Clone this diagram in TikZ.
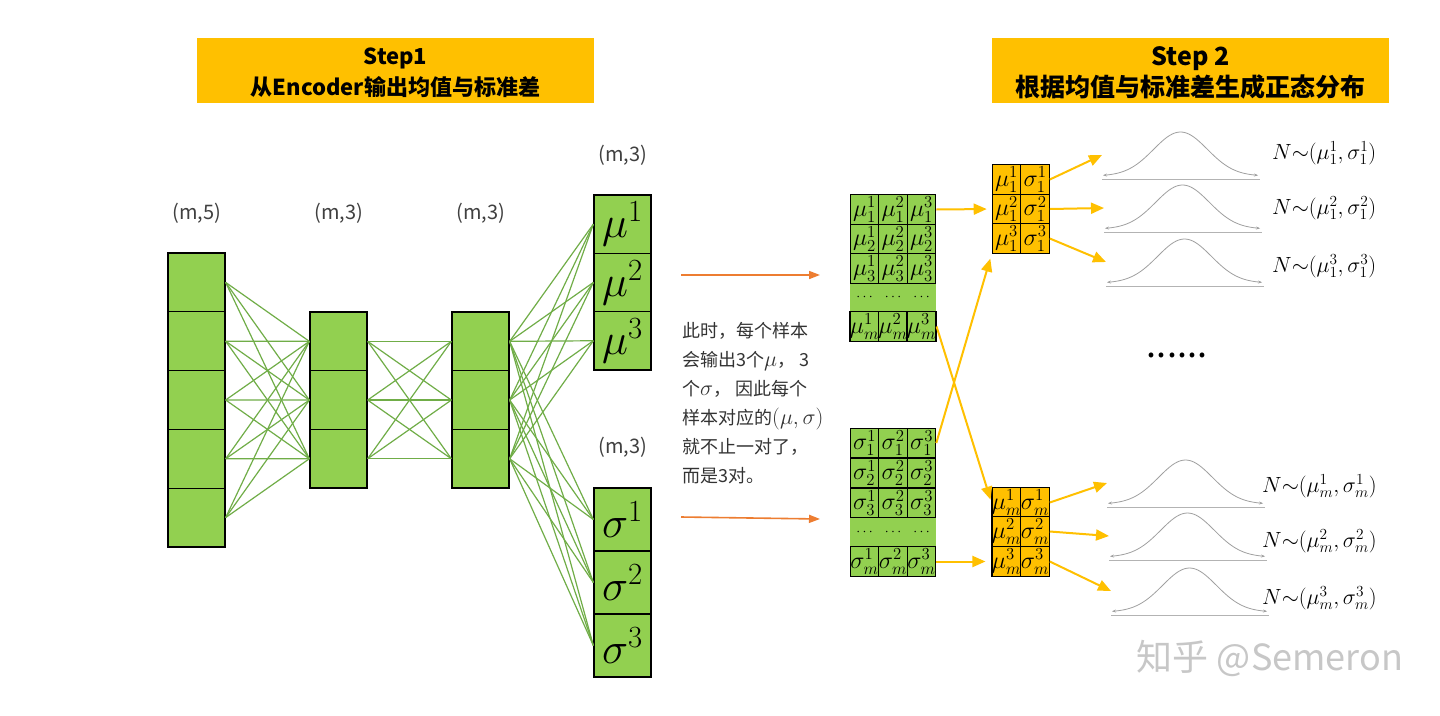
\RequirePackage{fix-cm}
\documentclass[tikz,border=0pt]{standalone}
\usepackage{fontspec}
\setmainfont{Noto Sans CJK SC}
\usetikzlibrary{arrows.meta, positioning, calc}

\definecolor{cellgreen}{HTML}{92D050}
\definecolor{linkgreen}{HTML}{70AD47}
\definecolor{bannerorange}{HTML}{FFC000}
\definecolor{arroworange}{HTML}{ED7D31}
\definecolor{curvegray}{HTML}{A0A0A0}

\newcommand{\notemath}[1]{{\fontsize{22}{29}\selectfont$#1$}}

\begin{document}
\begin{tikzpicture}[
  x=1pt, y=-1pt,
  cell/.style={draw, line width=1.3pt, fill=cellgreen, minimum width=57pt, inner sep=0pt, font=\fontsize{44}{44}\selectfont},
  mcell/.style={draw, line width=1.1pt, fill=cellgreen, minimum width=28.5pt, minimum height=29.5pt, inner sep=0pt, font=\fontsize{24}{24}\selectfont},
  ocell/.style={mcell, fill=bannerorange},
  band/.style={fill=cellgreen, minimum width=85.5pt, minimum height=29pt, inner sep=0pt},
  banner/.style={fill=bannerorange, minimum width=397pt, minimum height=65pt},
  bannertext/.style={align=center, inner sep=0pt, font=\bfseries\fontsize{22}{31}\selectfont},
  dimlabel/.style={font=\fontsize{20}{20}\selectfont, text=black!75},
  glabel/.style={anchor=west, inner sep=0pt, font=\fontsize{22}{22}\selectfont},
  link/.style={linkgreen, line width=1.2pt},
  yarrow/.style={-{Triangle[length=13pt,width=11pt]}, line width=2pt, bannerorange},
  oarrow/.style={-{Triangle[length=11pt,width=8pt]}, line width=1.6pt, arroworange},
  bell/.style={curvegray, line width=0.8pt, {Stealth[length=4pt,width=3pt]}-{Stealth[length=4pt,width=3pt]}},
  axisline/.style={curvegray!80, line width=0.8pt}
]
  \fill[white] (0,0) rectangle (1440,715);
  \useasboundingbox (0,0) rectangle (1440,715);

  % titles
  \node[banner] (step1) at (395.5,70.5) {};
  \node[bannertext] at (395.5,73) {Step1\\从Encoder输出均值与标准差};
  \node[banner] (step2) at (1190.5,70.5) {};
  \node[bannertext, font=\bfseries\fontsize{25}{31}\selectfont] at (1190.5,73) {Step 2\\根据均值与标准差生成正态分布};

  % encoder layers
  \foreach \i in {1,...,5}
    \node[cell, minimum height=58.8pt] (in\i) at (196.5,253+58.8*\i-29.4) {};
  \foreach \i in {1,2,3} {
    \node[cell, minimum height=58.7pt] (hida\i) at (338.5,312+58.7*\i-29.35) {};
    \node[cell, minimum height=58.7pt] (hidb\i) at (480.5,312+58.7*\i-29.35) {};
    \node[cell, minimum height=58.3pt] (mu\i) at (622.5,195+58.3*\i-29.15) {$\mu^{\i}$};
    \node[cell, minimum height=63pt] (sig\i) at (622.5,488+63*\i-31.5) {$\sigma^{\i}$};
  }

  \node[dimlabel] (dim-in) at (197,213) {(m,5)};
  \node[dimlabel] (dim-ha) at (339,213) {(m,3)};
  \node[dimlabel] (dim-hb) at (481,213) {(m,3)};
  \node[dimlabel] (dim-mu) at (623,155) {(m,3)};
  \node[dimlabel] (dim-sig) at (623,447) {(m,3)};

  \foreach \i in {1,...,5}
    \foreach \j in {1,2,3}
      \draw[link] (in\i.east) -- (hida\j.west);
  \foreach \i in {1,2,3}
    \foreach \j in {1,2,3} {
      \draw[link] (hida\i.east) -- (hidb\j.west);
      \draw[link] (hidb\i.east) -- (mu\j.west);
      \draw[link] (hidb\i.east) -- (sig\j.west);
    }

  % note in the middle
  \coordinate (muout) at (681,275);
  \coordinate (muin) at (820,275);
  \coordinate (sigout) at (681,517);
  \coordinate (sigin) at (820,519);
  \draw[oarrow] (muout) -- (muin);
  \draw[oarrow] (sigout) -- (sigin);
  \node[anchor=north west, align=left, inner sep=0pt, text=black!80, font=\fontsize{18}{29}\selectfont] (note) at (682,322)
    {此时，每个样本\\会输出3个\notemath{\mu}，\ 3\\个\notemath{\sigma}，\ 因此每个\\样本对应的\notemath{(\mu,\sigma)}\\就不止一对了，\\而是3对。};

  % batch matrices
  \node[band] (mm-dots) at (893,297.5) {};
  \node[band] (sm-dots) at (893,532.5) {};
  \foreach \c/\cx in {1/864.5, 2/893, 3/921.5} {
    \node[font=\fontsize{14}{14}\selectfont] (mm-dot\c) at (\cx,297.5) {$\cdots$};
    \node[font=\fontsize{14}{14}\selectfont] (sm-dot\c) at (\cx,532.5) {$\cdots$};
  }
  \foreach \r/\ry/\sy in {1/209.5/443, 2/239/473, 3/268.5/503, m/326.5/561.5}
    \foreach \c/\cx in {1/864.5, 2/893, 3/921.5} {
      \node[mcell] (mm-\r-\c) at (\cx,\ry) {$\mu_{\r}^{\c}$};
      \node[mcell] (sm-\r-\c) at (\cx,\sy) {$\sigma_{\r}^{\c}$};
    }

  % per-sample pairs
  \foreach \r/\ay/\by in {1/179.5/502.5, 2/209/531.5, 3/238.5/561.5} {
    \node[ocell] (oa-\r-1) at (1006.5,\ay) {$\mu_1^{\r}$};
    \node[ocell] (oa-\r-2) at (1035,\ay) {$\sigma_1^{\r}$};
    \node[ocell] (ob-\r-1) at (1006.5,\by) {$\mu_m^{\r}$};
    \node[ocell] (ob-\r-2) at (1035,\by) {$\sigma_m^{\r}$};
  }

  \draw[yarrow, shorten >=5pt] (mm-1-3.east) -- (oa-2-1.west);
  \draw[yarrow, shorten >=3pt] (mm-m-3.east) -- (ob-1-1.west);
  \draw[yarrow, shorten >=5pt] (sm-1-3.east) -- (oa-3-1.south west);
  \draw[yarrow, shorten >=6pt] (sm-m-3.east) -- (ob-3-1.west);

  % normal curves
  \foreach \gx/\gy [count=\k] in {1103/177, 1105/230, 1107/284, 1108/505, 1110/558, 1112/613} {
    \draw[axisline] (\gx-1,\gy+2) -- (\gx+157,\gy+2);
    \draw[bell] plot[domain=0:155, samples=61, smooth] ({\gx+\x},{\gy-1-44*exp(-((\x-77.5)/38)*((\x-77.5)/38))});
    \coordinate (bell\k) at (\gx-1,\gy-22);
  }
  \foreach \r in {1,2,3}
    \draw[yarrow] (oa-\r-2.east) -- (bell\r);
  \foreach \r [evaluate=\r as \k using int(\r+3)] in {1,2,3}
    \draw[yarrow] (ob-\r-2.east) -- (bell\k);

  \foreach \r/\ly in {1/153, 2/208, 3/266}
    \node[glabel] (na\r) at (1272,\ly) {$N{\sim}(\mu_1^{\r},\sigma_1^{\r})$};
  \foreach \r/\ly in {1/486, 2/541, 3/598}
    \node[glabel] (nb\r) at (1262,\ly) {$N{\sim}(\mu_m^{\r},\sigma_m^{\r})$};

  \node[font=\fontsize{36}{36}\selectfont] (more) at (1177,355) {......};

  % watermark
  \node[font=\fontsize{36}{36}\selectfont, text=black!22] (mark) at (1270,658) {知乎\ @Semeron};
\end{tikzpicture}
\end{document}
